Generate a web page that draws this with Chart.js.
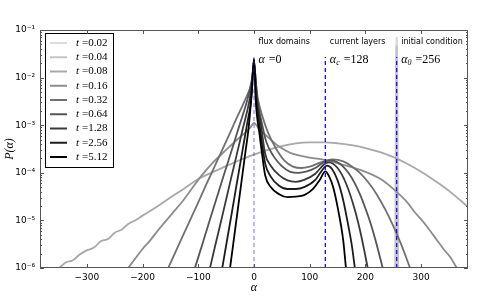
<!DOCTYPE html>
<html>
<head>
<meta charset="utf-8">
<script src="https://cdn.jsdelivr.net/npm/chart.js@4.4.0/dist/chart.umd.min.js"></script>
<style>
html, body { margin: 0; padding: 0; background: #fff; }
#wrap { width: 498px; height: 299px; }
</style>
</head>
<body>
<div id="wrap"><canvas id="chart" width="498" height="299"></canvas></div>
<script>
const times = ['0.02', '0.04', '0.08', '0.16', '0.32', '0.64', '1.28', '2.56', '5.12'];
const lineColors = ['#dcdcdc', '#c4c4c4', '#a8a8a8', '#8c8c8c', '#707070', '#555555', '#393939', '#1c1c1c', '#000000'];

// t = 0.02 and 0.04: still a narrow spike at the initial condition
const alpha002 = [255, 256, 257];
const p002 = [1e-6, 6.8e-2, 1e-6];
const alpha004 = [254, 256, 258];
const p004 = [1e-6, 4.5e-2, 1e-6];

const alpha008 = [-350, -337, -325, -312, -300, -287, -275, -262, -250, -237, -225, -212, -200, -175, -150, -125, -100, -75, -50, -25, 0, 25, 50, 75, 100, 125, 150, 175, 200, 225, 250, 275, 300, 325, 350, 384];
const p008 = [1.0e-6, 1.32e-6, 1.45e-6, 1.95e-6, 2.34e-6, 2.69e-6, 3.63e-6, 4.07e-6, 5.5e-6, 6.46e-6, 8.51e-6, 1.02e-5, 1.26e-5, 1.91e-5, 3.02e-5, 4.68e-5, 7.41e-5, 1.02e-4, 1.38e-4, 1.86e-4, 2.4e-4, 3.02e-4, 3.63e-4, 4.17e-4, 4.37e-4, 4.37e-4, 4.17e-4, 3.8e-4, 3.31e-4, 2.75e-4, 2.14e-4, 1.55e-4, 1.05e-4, 6.76e-5, 4.17e-5, 1.91e-5];

const alpha016 = [-226, -213, -200, -187, -175, -150, -125, -97, -75, -50, -30, -15, -6, 0, 8, 25, 45, 65, 100, 128, 150, 200, 230, 256, 275, 290, 303, 315, 328, 340, 352, 364];
const p016 = [1.0e-6, 1.58e-6, 2.51e-6, 3.72e-6, 5.62e-6, 1.26e-5, 2.82e-5, 7.94e-5, 1.58e-4, 3.02e-4, 5.01e-4, 7.08e-4, 9.12e-4, 1.12e-3, 8.71e-4, 5.62e-4, 3.55e-4, 2.63e-4, 2.09e-4, 1.86e-4, 1.58e-4, 1.05e-4, 7.08e-5, 3.98e-5, 2.4e-5, 1.41e-5, 9.55e-6, 6.31e-6, 3.89e-6, 2.51e-6, 1.7e-6, 1.0e-6];

const alpha032 = [-154, -140, -120, -100, -85, -70, -50, -33, -16, -5, 0, 7, 16, 25, 40, 55, 70, 85, 100, 120, 142, 160, 175, 190, 205, 220, 235, 250, 265, 280];
const p032 = [1.0e-6, 2.29e-6, 7.41e-6, 2.4e-5, 5.89e-5, 1.41e-4, 4.57e-4, 1.26e-3, 3.39e-3, 7.08e-3, 1.26e-2, 3.55e-3, 1.41e-3, 7.08e-4, 3.16e-4, 1.78e-4, 1.35e-4, 1.26e-4, 1.35e-4, 1.66e-4, 1.91e-4, 1.74e-4, 1.38e-4, 1.0e-4, 6.31e-5, 3.55e-5, 1.74e-5, 7.59e-6, 2.95e-6, 1.0e-6];

const alpha064 = [-106, -93, -80, -67, -55, -42, -30, -20, -12, -4, 0, 6, 14, 22, 35, 50, 65, 80, 95, 110, 125, 138, 150, 160, 170, 180, 190, 200, 210, 220, 231];
const p064 = [1.0e-6, 3.09e-6, 9.55e-6, 2.95e-5, 8.32e-5, 2.51e-4, 7.08e-4, 1.66e-3, 3.39e-3, 8.91e-3, 1.91e-2, 3.55e-3, 1.12e-3, 4.47e-4, 2.24e-4, 1.38e-4, 1.05e-4, 1.0e-4, 1.07e-4, 1.26e-4, 1.66e-4, 1.82e-4, 1.66e-4, 1.35e-4, 9.77e-5, 6.31e-5, 3.55e-5, 1.78e-5, 8.13e-6, 3.16e-6, 1.0e-6];

const alpha128 = [-79, -70, -60, -50, -40, -30, -20, -8, -3, 0, 5, 12, 20, 30, 45, 60, 75, 90, 110, 125, 134, 150, 165, 180, 192, 198, 204];
const p128 = [1.0e-6, 2.82e-6, 8.71e-6, 2.75e-5, 8.71e-5, 2.69e-4, 8.51e-4, 3.39e-3, 8.91e-3, 2.24e-2, 3.55e-3, 1.12e-3, 2.51e-4, 1.41e-4, 8.91e-5, 6.92e-5, 6.46e-5, 7.08e-5, 9.55e-5, 1.48e-4, 1.66e-4, 1.26e-4, 6.03e-5, 1.82e-5, 5.01e-6, 2.29e-6, 1.0e-6];

const alpha256 = [-57, -48, -40, -32, -25, -18, -12, -5, 0, 4, 10, 20, 30, 45, 60, 75, 90, 110, 122, 131, 140, 150, 160, 170, 176, 181];
const p256 = [1.0e-6, 4.07e-6, 1.41e-5, 5.01e-5, 1.48e-4, 4.47e-4, 1.12e-3, 3.55e-3, 2.4e-2, 3.55e-3, 1.0e-3, 1.58e-4, 8.32e-5, 5.37e-5, 4.57e-5, 4.57e-5, 5.01e-5, 7.08e-5, 1.12e-4, 1.41e-4, 1.2e-4, 6.92e-5, 2.69e-5, 6.92e-6, 2.75e-6, 1.0e-6];

const alpha512 = [-43, -37, -30, -25, -20, -15, -10, -4, 0, 3, 10, 15, 20, 30, 45, 60, 75, 90, 105, 118, 128, 135, 142, 151, 160, 165];
const p512 = [1.0e-6, 3.39e-6, 1.41e-5, 3.89e-5, 1.07e-4, 2.95e-4, 8.13e-4, 5.01e-3, 2.51e-2, 3.39e-3, 6.31e-4, 2.24e-4, 8.91e-5, 5.01e-5, 3.55e-5, 3.09e-5, 3.16e-5, 3.39e-5, 4.47e-5, 7.08e-5, 1.07e-4, 8.32e-5, 5.01e-5, 1.66e-5, 3.89e-6, 1.0e-6];

const seriesAlpha = [alpha002, alpha004, alpha008, alpha016, alpha032, alpha064, alpha128, alpha256, alpha512];
const seriesP = [p002, p004, p008, p016, p032, p064, p128, p256, p512];

const markerAlpha = [0, 128, 256];
const markerTop = 2.7e-2;
const markerNames = ['flux domains', 'current layers', 'initial condition'];
const markerSubs = ['', 'c', '0'];
const markerColors = ['rgba(40,40,255,0.5)', 'rgba(0,0,255,0.95)', 'rgba(0,0,255,0.9)'];

const xTicks = [-300, -200, -100, 0, 100, 200, 300];
const xTickLabels = ['\u2212300', '\u2212200', '\u2212100', '0', '100', '200', '300'];
const yTicks = [1e-6, 1e-5, 1e-4, 1e-3, 1e-2, 1e-1];
const yTickLabels = ['10\u207b\u2076', '10\u207b\u2075', '10\u207b\u2074', '10\u207b\u00b3', '10\u207b\u00b2', '10\u207b\u00b9'];

const datasets = [];
times.forEach((t, i) => {
  datasets.push({
    label: 't=' + t,
    data: seriesAlpha[i].map((a, j) => ({x: a, y: seriesP[i][j]})),
    borderColor: lineColors[i],
    borderWidth: i < 2 ? 2.5 : 1.8,
    pointRadius: 0,
    cubicInterpolationMode: 'monotone',
    order: 20 - i
  });
});
markerAlpha.forEach((m, i) => {
  datasets.push({
    label: 'marker' + i,
    data: [{x: m, y: 1e-6}, {x: m, y: markerTop}],
    borderColor: markerColors[i],
    borderWidth: 1.3,
    borderDash: [4, 3],
    pointRadius: 0,
    order: 1
  });
});

function drawMath(ctx, x, y, sub, val) {
  ctx.font = 'italic 12px "Liberation Serif"';
  ctx.fillText('\u03b1', x, y);
  let w = ctx.measureText('\u03b1').width;
  if (sub) {
    ctx.font = 'italic 8px "Liberation Serif"';
    ctx.fillText(sub, x + w, y + 3);
    w += ctx.measureText(sub).width;
  }
  ctx.font = '12px "Liberation Serif"';
  ctx.fillText(' =' + val, x + w + 1, y);
}

const decorations = {
  id: 'decorations',
  afterDatasetsDraw(chart) {
    const {ctx, chartArea: a, scales: {x, y}} = chart;
    ctx.save();
    ctx.fillStyle = '#000';
    ctx.textBaseline = 'middle';
    ctx.textAlign = 'left';

    // annotations next to the dashed lines
    markerAlpha.forEach((m, i) => {
      const px = x.getPixelForValue(m) + 4.5;
      ctx.font = '8px "DejaVu Sans"';
      ctx.fillText(markerNames[i], px, 42);
      drawMath(ctx, px, 60, markerSubs[i], String(m));
    });

    // legend
    ctx.fillStyle = '#fff';
    ctx.fillRect(45.5, 33.5, 68, 134);
    ctx.strokeStyle = '#000';
    ctx.lineWidth = 1;
    ctx.strokeRect(45.5, 33.5, 68, 134);
    times.forEach((t, i) => {
      const ly = 43 + i * 14.25;
      ctx.strokeStyle = lineColors[i];
      ctx.lineWidth = 2;
      ctx.beginPath();
      ctx.moveTo(50, ly);
      ctx.lineTo(67, ly);
      ctx.stroke();
      ctx.fillStyle = '#000';
      ctx.font = 'italic 11px "Liberation Serif"';
      ctx.fillText('t', 76, ly);
      const w = ctx.measureText('t').width;
      ctx.font = '11px "Liberation Serif"';
      ctx.fillText('=' + t, 76 + w + 3, ly);
    });

    // frame and inward ticks
    ctx.strokeStyle = '#555';
    ctx.lineWidth = 1;
    ctx.strokeRect(a.left + 0.5, a.top + 0.5, a.right - a.left - 1, a.bottom - a.top - 1);
    ctx.beginPath();
    xTicks.forEach(v => {
      const px = Math.round(x.getPixelForValue(v)) + 0.5;
      ctx.moveTo(px, a.bottom); ctx.lineTo(px, a.bottom - 4);
      ctx.moveTo(px, a.top); ctx.lineTo(px, a.top + 4);
    });
    yTicks.forEach((v, k) => {
      const py = Math.round(y.getPixelForValue(v)) + 0.5;
      ctx.moveTo(a.left, py); ctx.lineTo(a.left + 4, py);
      ctx.moveTo(a.right, py); ctx.lineTo(a.right - 4, py);
      if (k < yTicks.length - 1) {
        for (let m = 2; m <= 9; m++) {
          const qy = Math.round(y.getPixelForValue(v * m)) + 0.5;
          ctx.moveTo(a.left, qy); ctx.lineTo(a.left + 2, qy);
          ctx.moveTo(a.right, qy); ctx.lineTo(a.right - 2, qy);
        }
      }
    });
    ctx.stroke();
    ctx.restore();
  }
};

new Chart(document.getElementById('chart'), {
  type: 'line',
  data: {datasets: datasets},
  options: {
    responsive: false,
    animation: false,
    devicePixelRatio: 1,
    layout: {padding: {left: 0, top: 30, right: 30, bottom: 0}},
    plugins: {legend: {display: false}, tooltip: {enabled: false}},
    scales: {
      x: {
        type: 'linear',
        min: -384,
        max: 384,
        grid: {display: false, drawTicks: false},
        border: {display: false},
        afterBuildTicks: s => { s.ticks = xTicks.map(v => ({value: v})); },
        afterFit: s => { s.height = 31; },
        ticks: {
          padding: 4,
          maxRotation: 0,
          color: '#000',
          font: {family: 'DejaVu Sans', size: 9},
          callback: v => xTickLabels[xTicks.indexOf(v)]
        },
        title: {
          display: true,
          text: '\u03b1',
          color: '#000',
          font: {family: 'Liberation Serif', size: 12, style: 'italic'},
          padding: {top: 0, bottom: 4}
        }
      },
      y: {
        type: 'logarithmic',
        min: 1e-6,
        max: 1e-1,
        grid: {display: false, drawTicks: false},
        border: {display: false},
        afterBuildTicks: s => { s.ticks = yTicks.map(v => ({value: v})); },
        afterFit: s => { s.width = 40; },
        ticks: {
          padding: 5,
          color: '#000',
          font: {family: 'DejaVu Sans', size: 9},
          callback: v => yTickLabels[yTicks.indexOf(v)]
        },
        title: {
          display: true,
          text: 'P(\u03b1)',
          color: '#000',
          font: {family: 'Liberation Serif', size: 12, style: 'italic'},
          padding: {top: 3, bottom: 0}
        }
      }
    }
  },
  plugins: [decorations]
});
</script>
</body>
</html>
